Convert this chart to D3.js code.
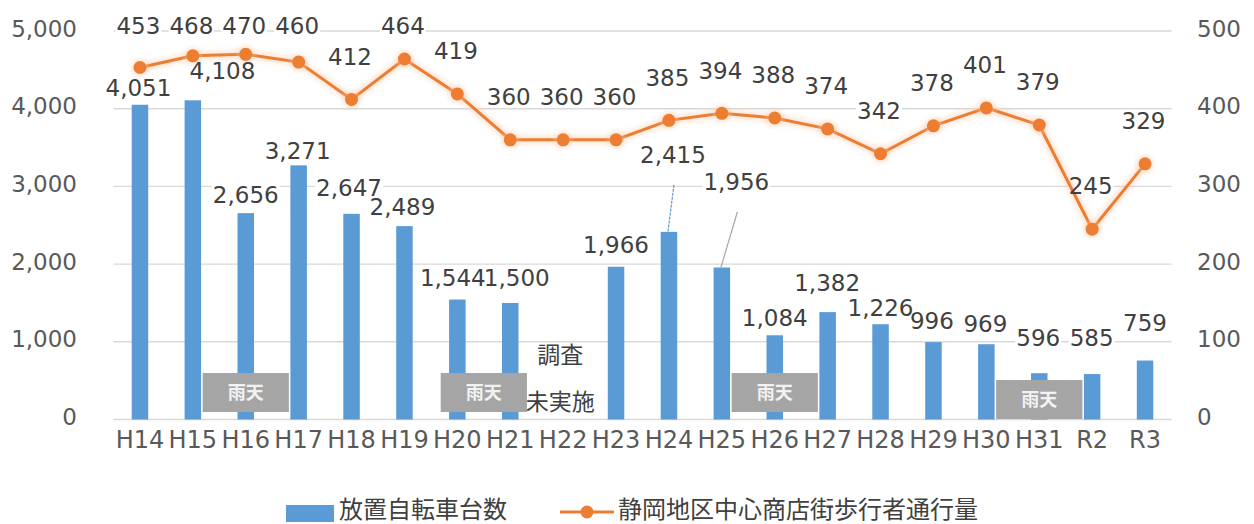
<!DOCTYPE html>
<html lang="ja">
<head>
<meta charset="utf-8">
<script src="https://cdn.jsdelivr.net/npm/d3@7"></script>
<style>
  html, body { margin: 0; padding: 0; background: #fff; }
  svg { display: block; }
</style>
</head>
<body>
<svg id="chart" width="1254" height="524"></svg>
<script>
// Fiscal years (Heisei / Reiwa)
const categories = ["H14","H15","H16","H17","H18","H19","H20","H21","H22","H23",
                    "H24","H25","H26","H27","H28","H29","H30","H31","R2","R3"];
// Abandoned bicycles (left axis); H22 had no survey
const bikes = [4051,4108,2656,3271,2647,2489,1544,1500,null,1966,
               2415,1956,1084,1382,1226,996,969,596,585,759];
// Pedestrian traffic in the central shopping streets (right axis)
const pedestrians = [453,468,470,460,412,464,419,360,360,360,
                     385,394,388,374,342,378,401,379,245,329];
const leftTicks = [0,1000,2000,3000,4000,5000];
const rightTicks = [0,100,200,300,400,500];
const rainyYears = ["H16","H20","H26","H31"];
const rainText = "雨天";
const noSurveyYear = "H22";
const noSurveyText = ["調査","未実施"];
const seriesNames = ["放置自転車台数","静岡地区中心商店街歩行者通行量"];

// ---- layout ----
const W = 1254, H = 524;
const plot = { left: 113.5, right: 1171.5, top: 31, bottom: 419.5 };
const blue = "#5B9BD5", orange = "#ED7D31", gridColor = "#D9D9D9";
const textColor = "#404040", axisColor = "#595959";
const numFont = "'DejaVu Sans', Verdana, sans-serif";
const cjkFont = "'Noto Sans CJK JP', 'Noto Sans', sans-serif";

// label nudges for the bar values: [dx from band centre, dy (label centre) from bar top]
const barLabelNudge = [[-1.5,-17],[29.6,-30],[0,-18],[-1,-14.5],[-2.5,-26],[-2,-19],[-4.5,-21.5],[6.5,-25],null,[0,-22],
                       [4,-77],[14.5,-85.5],[0,-18],[-0.5,-29],[0,-17],[-1.5,-21],[-1,-21],[-1,-35],[-0.5,-36],[0,-37.5]];
// labels that are joined to their bar with a leader line
const leaderColor = { "H24": blue, "H25": "#A6A6A6" };
// rain boxes: shift in bands from the category centre, vertical shift in px
const rainBoxLayout = { "H16": [0, 0], "H20": [0.5, 0], "H26": [0, 0], "H31": [0, 7] };

const svg = d3.select("#chart");
svg.append("rect").attr("width", W).attr("height", H).attr("fill", "#fff");

const x = d3.scaleBand().domain(categories).range([plot.left, plot.right]).padding(0);
const yL = d3.scaleLinear().domain([0, 5000]).range([plot.bottom, plot.top]);
const yR = d3.scaleLinear().domain([0, 500]).range([plot.bottom, plot.top]);
const cx = c => x(c) + x.bandwidth() / 2;
const barW = 16.5;

const defs = svg.append("defs");
const glow = defs.append("filter").attr("id", "glow").attr("x", "-10%").attr("y", "-10%").attr("width", "120%").attr("height", "120%");
glow.append("feGaussianBlur").attr("stdDeviation", 2.5);

// gridlines
const gGrid = svg.append("g");
gGrid.selectAll("line").data(leftTicks).join("line")
  .attr("x1", plot.left).attr("x2", plot.right)
  .attr("y1", d => yL(d)).attr("y2", d => yL(d))
  .attr("stroke", gridColor).attr("stroke-width", 1.4);

const gLabelBg = svg.append("g");

// left axis
const axisL = svg.append("g").attr("transform", `translate(77,0)`)
  .call(d3.axisLeft(yL).tickValues(leftTicks).tickSize(0).tickPadding(0).tickFormat(d3.format(",")));
axisL.select(".domain").remove();
axisL.selectAll("text").attr("font-family", numFont).attr("font-size", 23).attr("fill", axisColor)
  .attr("dy", "0.22em");

// right axis
const axisR = svg.append("g").attr("transform", `translate(1197,0)`)
  .call(d3.axisRight(yR).tickValues(rightTicks).tickSize(0).tickPadding(0));
axisR.select(".domain").remove();
axisR.selectAll("text").attr("font-family", numFont).attr("font-size", 23).attr("fill", axisColor)
  .attr("dy", "0.22em");

// category axis
const axisB = svg.append("g").attr("transform", `translate(0,${plot.bottom})`)
  .call(d3.axisBottom(x).tickSize(0).tickPadding(0));
axisB.select(".domain").remove();
axisB.selectAll("text").attr("font-family", numFont).attr("font-size", 24).attr("fill", axisColor)
  .attr("dy", 0).attr("y", 28);

// bars
const barData = categories.map((c, i) => ({ c, v: bikes[i], i })).filter(d => d.v != null);
svg.append("g").selectAll("rect").data(barData).join("rect")
  .attr("x", d => cx(d.c) - barW / 2)
  .attr("width", barW)
  .attr("y", d => yL(d.v))
  .attr("height", d => yL(0) - yL(d.v))
  .attr("fill", blue);

// rain boxes
const gRain = svg.append("g");
rainyYears.forEach(c => {
  const [shift, dy] = rainBoxLayout[c];
  const mx = cx(c) + shift * x.bandwidth();
  const bw = 1.63 * x.bandwidth(), bh = 39;
  const top = yL(0) - 46.5 + dy;
  gRain.append("rect").attr("x", mx - bw / 2).attr("y", top).attr("width", bw).attr("height", bh)
    .attr("fill", "#A5A5A5");
  gRain.append("text").attr("x", mx).attr("y", top + bh / 2 + 6.5).attr("text-anchor", "middle")
    .attr("font-family", cjkFont).attr("font-weight", 700).attr("font-size", 18)
    .attr("fill", "#F2F2F2").text(rainText);
});

// note for the year without a survey
const gNote = svg.append("g");
noSurveyText.forEach((t, k) => {
  gNote.append("text").attr("x", cx(noSurveyYear) - 3).attr("y", 363 + k * 47)
    .attr("text-anchor", "middle").attr("font-family", cjkFont).attr("font-size", 23)
    .attr("fill", textColor).text(t);
});

// leader lines
const gLeader = svg.append("g");
barData.forEach(d => {
  if (!leaderColor[d.c]) return;
  const [dx, dy] = barLabelNudge[d.i];
  gLeader.append("line")
    .attr("x1", cx(d.c) + dx + 1).attr("y1", yL(d.v) + dy + 30)
    .attr("x2", cx(d.c) - 1).attr("y2", yL(d.v))
    .attr("stroke", leaderColor[d.c]).attr("stroke-width", 1.2)
    .attr("stroke-dasharray", d.c === "H24" ? "3,1" : null);
});

// pedestrian line
const lineData = categories.map((c, i) => ({ c, v: pedestrians[i] }));
const line = d3.line().x(d => cx(d.c)).y(d => yR(d.v));
const gLine = svg.append("g");
gLine.append("path").datum(lineData).attr("d", line)
  .attr("fill", "none").attr("stroke", "#F8CBAD").attr("stroke-width", 8).attr("opacity", 0.5)
  .attr("filter", "url(#glow)");
gLine.append("path").datum(lineData).attr("d", line)
  .attr("fill", "none").attr("stroke", orange).attr("stroke-width", 3);
gLine.selectAll("circle.halo").data(lineData).join("circle").attr("class", "halo")
  .attr("cx", d => cx(d.c)).attr("cy", d => yR(d.v)).attr("r", 9)
  .attr("fill", "#F8CBAD").attr("opacity", 0.45).attr("filter", "url(#glow)");
gLine.selectAll("circle.pt").data(lineData).join("circle").attr("class", "pt")
  .attr("cx", d => cx(d.c)).attr("cy", d => yR(d.v)).attr("r", 6.5)
  .attr("fill", orange);

// value labels
const gText = svg.append("g");
const fmt = d3.format(",");
function addLabel(xc, yc, txt) {
  const t = gText.append("text").attr("x", xc).attr("y", yc + 8.3)
    .attr("text-anchor", "middle").attr("font-family", numFont).attr("font-size", 23)
    .attr("fill", textColor).text(txt);
  const b = t.node().getBBox();
  gLabelBg.append("rect").attr("x", b.x - 1).attr("y", yc - 11).attr("width", b.width + 2).attr("height", 22)
    .attr("fill", "#fff");
}
barData.forEach(d => {
  const [dx, dy] = barLabelNudge[d.i];
  addLabel(cx(d.c) + dx, yL(d.v) + dy, fmt(d.v));
});
lineData.forEach(d => {
  addLabel(cx(d.c) - 1.5, Math.max(yR(d.v) - 43, 26), fmt(d.v));
});

// legend
const gLeg = svg.append("g");
const legY = 509;
gLeg.append("rect").attr("x", 286).attr("y", legY - 4).attr("width", 48).attr("height", 17).attr("fill", blue);
gLeg.append("text").attr("x", 339).attr("y", legY + 9).attr("font-family", cjkFont).attr("font-size", 24)
  .attr("fill", textColor).text(seriesNames[0]);
gLeg.append("line").attr("x1", 560).attr("x2", 614).attr("y1", legY + 3).attr("y2", legY + 3)
  .attr("stroke", orange).attr("stroke-width", 3);
gLeg.append("circle").attr("cx", 587).attr("cy", legY + 3).attr("r", 6.5).attr("fill", orange);
gLeg.append("text").attr("x", 618).attr("y", legY + 9).attr("font-family", cjkFont).attr("font-size", 24)
  .attr("fill", textColor).text(seriesNames[1]);
</script>
</body>
</html>
